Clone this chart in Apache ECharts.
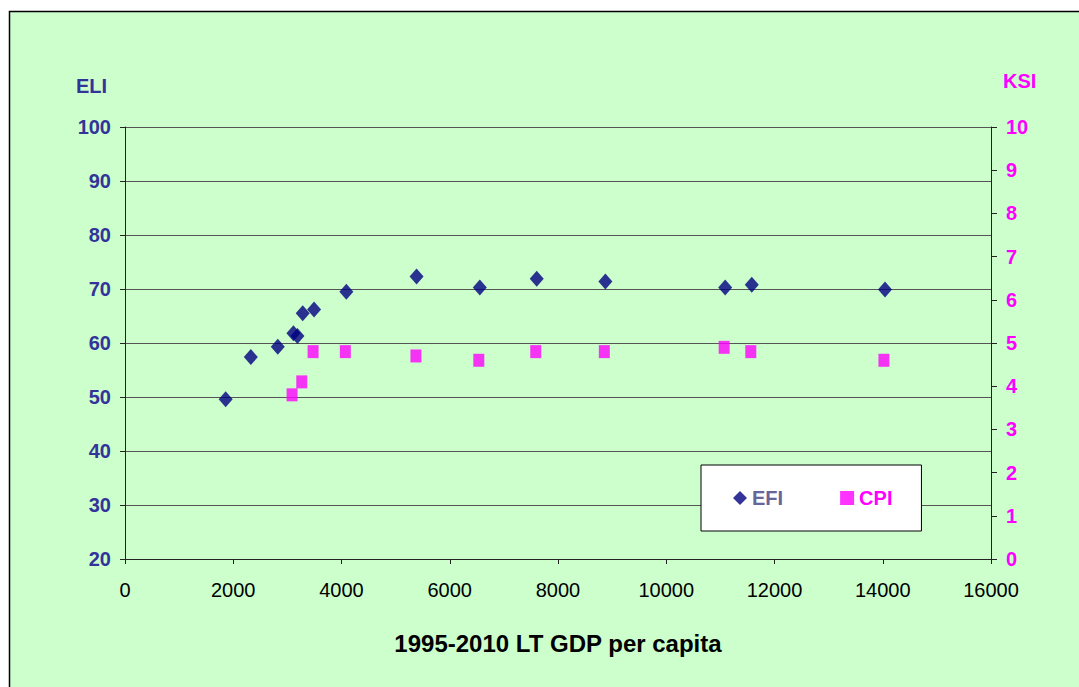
<!DOCTYPE html>
<html>
<head>
<meta charset="utf-8">
<script src="https://cdn.jsdelivr.net/npm/echarts@6/dist/echarts.min.js"></script>
<style>
html,body{margin:0;padding:0;background:#fff;}
#c{width:1079px;height:687px;}
</style>
</head>
<body>
<div id="c"></div>
<script>
// Data
const efiGdp = [1860, 2325, 2823, 3112, 3186, 3284, 3493, 4090, 5387, 6556, 7607, 8875, 11089, 11580, 14041];
const efiValues = [49.6, 57.4, 59.3, 61.8, 61.3, 65.5, 66.2, 69.5, 72.3, 70.3, 71.9, 71.4, 70.3, 70.8, 69.9];
const cpiGdp = [3087, 3266, 3475, 4071, 5375, 6537, 7589, 8856, 11070, 11562, 14022];
const cpiValues = [3.8, 4.1, 4.8, 4.8, 4.7, 4.6, 4.8, 4.8, 4.9, 4.8, 4.6];
const seriesNames = ['EFI', 'CPI'];
const xTitle = '1995-2010 LT GDP per capita';
const leftTitle = 'ELI';
const rightTitle = 'KSI';

const FONT = '"Liberation Sans", Arial, sans-serif';
const chart = echarts.init(document.getElementById('c'), null, {renderer: 'svg'});

chart.setOption({
  backgroundColor: '#ffffff',
  animation: false,
  graphic: [{
    type: 'rect', z: -10, silent: true,
    shape: {x: 9.5, y: 11.5, width: 1100, height: 700},
    style: {fill: '#CCFFCC', stroke: '#000', lineWidth: 1.5}
  }],
  grid: {left: 125, right: 88, top: 127, bottom: 128, containLabel: false},
  legend: {
    left: 701, top: 465,
    backgroundColor: '#ffffff', borderColor: '#000', borderWidth: 1,
    padding: [23, 29, 23, 32],
    itemGap: 57, itemWidth: 14, itemHeight: 14,
    textStyle: {fontFamily: FONT, fontSize: 20, fontWeight: 'bold'},
    data: [
      {name: seriesNames[0], icon: 'diamond', textStyle: {color: '#666699'}},
      {name: seriesNames[1], icon: 'rect', textStyle: {color: '#FF00FF'}}
    ]
  },
  xAxis: {
    type: 'value', min: 0, max: 16000, interval: 2000,
    axisLine: {show: true, onZero: false, lineStyle: {color: '#222', width: 1}},
    axisTick: {show: true, inside: false, length: 5, lineStyle: {color: '#222'}},
    splitLine: {show: false},
    axisLabel: {color: '#000', fontFamily: FONT, fontSize: 20, margin: 21, formatter: v => String(v)},
    name: xTitle, nameLocation: 'middle', nameGap: 72,
    nameTextStyle: {color: '#000', fontFamily: FONT, fontSize: 24, fontWeight: 'bold'}
  },
  yAxis: [{
    type: 'value', min: 20, max: 100, interval: 10, position: 'left',
    axisLine: {show: true, onZero: false, lineStyle: {color: '#222', width: 1}},
    axisTick: {show: true, inside: false, length: 5, lineStyle: {color: '#222'}},
    splitLine: {show: true, lineStyle: {color: '#555', width: 1}},
    axisLabel: {color: '#333399', fontFamily: FONT, fontSize: 20, fontWeight: 'bold', margin: 14},
    name: leftTitle, nameLocation: 'end', nameGap: 31,
    nameTextStyle: {color: '#333399', fontFamily: FONT, fontSize: 20, fontWeight: 'bold', align: 'right', padding: [0, 18, 0, 0]}
  }, {
    type: 'value', min: 0, max: 10, interval: 1, position: 'right',
    axisLine: {show: true, onZero: false, lineStyle: {color: '#222', width: 1}},
    axisTick: {show: true, inside: false, length: 6, lineStyle: {color: '#222'}},
    splitLine: {show: false},
    axisLabel: {color: '#FF00FF', fontFamily: FONT, fontSize: 20, fontWeight: 'bold', margin: 15},
    name: rightTitle, nameLocation: 'end', nameGap: 36,
    nameTextStyle: {color: '#FF00FF', fontFamily: FONT, fontSize: 20, fontWeight: 'bold', align: 'left', padding: [0, 0, 0, 12]}
  }],
  series: [{
    name: seriesNames[0], type: 'scatter', yAxisIndex: 0,
    symbol: 'diamond', symbolSize: [14, 16],
    itemStyle: {color: '#000080'},
    data: efiGdp.map((x, i) => [x, efiValues[i]])
  }, {
    name: seriesNames[1], type: 'scatter', yAxisIndex: 1,
    symbol: 'rect', symbolSize: [11, 13],
    itemStyle: {color: '#FF00FF'},
    data: cpiGdp.map((x, i) => [x, cpiValues[i]])
  }]
});
</script>
</body>
</html>
